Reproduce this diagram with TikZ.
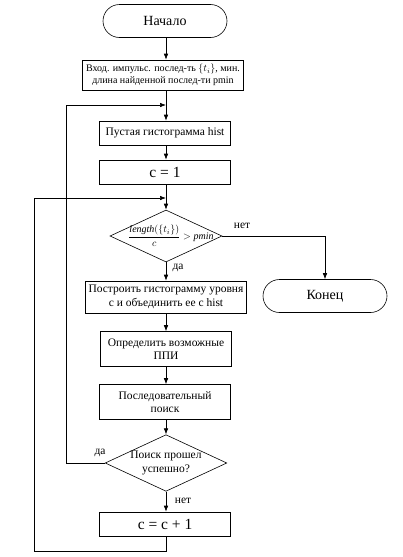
\documentclass[tikz,border=0pt]{standalone}
\usepackage{fontspec}
\setmainfont{Liberation Serif}
\usetikzlibrary{shapes.geometric,arrows.meta}
\begin{document}
\begin{tikzpicture} [x=1pt, y=-1pt, line width=0.6pt, >={Latex[length=6pt,width=4.5pt]},
        every node/.style = {draw, align=center, inner sep=1pt, font=\fontsize{11.5}{13.5}\selectfont},
        terminal/.style = {rounded corners=16.5pt, minimum width=124pt, minimum height=33pt, font=\fontsize{14}{16}\selectfont},
        block/.style = {minimum width=131pt, minimum height=24pt},
        decision/.style = {diamond, aspect=2.15, inner sep=0pt, minimum width=112pt, minimum height=52pt},
        tag/.style = {draw=none, inner sep=0pt}]
        \useasboundingbox (0,0) rectangle (403,557);
        % main column
        \node [terminal] (start) at (165,21) {Начало};
        \node [block, minimum width=161pt, minimum height=30pt, font=\fontsize{10}{12}\selectfont] (input) at (163,75)
            {Вход. импульс. послед-ть $\{t_i\}$, мин.\\длина найденной послед-ти pmin};
        \node [block] (hist) at (165,133) {Пустая гистограмма hist};
        \node [block, font=\fontsize{15.5}{17}\selectfont] (cinit) at (165,172) {c = 1};
        \node [decision] (check) at (166,236)
            {\makebox[40pt][c]{\hspace{10pt}\fontsize{10}{12}\selectfont$\displaystyle\frac{\mathit{length}(\{t_i\})}{c} > \mathit{pmin}$}};
        \node [block, minimum width=161pt, minimum height=32pt] (build) at (166,297)
            {Построить гистограмму уровня\\c и объединить ее с hist};
        \node [block, minimum height=35pt] (find) at (166,349) {Определить возможные\\ППИ};
        \node [block, minimum height=35pt] (seq) at (165,402) {Последовательный\\поиск};
        \node [decision] (ok) at (166,463) {Поиск прошел\\успешно?};
        \node [block, font=\fontsize{15.5}{17}\selectfont] (cinc) at (165,524) {c = c + 1};
        \node [terminal] (finish) at (325,296) {Конец};

        % junctions of the loops
        \coordinate (j1) at (166,105);
        \coordinate (j2) at (166,198);
        \coordinate (bot) at (166,551);

        \draw [->] (start.south -| j1) -- (input.north -| j1);
        \draw [->] (input.south -| j1) -- (hist.north -| j1);
        \draw [->] (hist.south -| j1) -- (cinit.north -| j1);
        \draw [->] (cinit.south -| j1) -- (check);
        \draw [->] (check) -- (check.south |- build.north);
        \draw [->] (build) -- (find);
        \draw [->] (find.south -| j1) -- (seq.north -| j1);
        \draw [->] (seq.south -| j1) -- (ok);
        \draw [->] (ok) -- (ok.south |- cinc.north);
        \draw [->] (check.east) -| (finish.north);
        \draw [->] (ok.west) -- (66,463) |- (j1);
        \draw [->] (cinc.south -| bot) -- (bot) -- (34,551) |- (j2);

        % branch labels
        \node [tag] (no1) at (242,226) {нет};
        \node [tag] (yes1) at (178,268) {да};
        \node [tag] (yes2) at (100,453) {да};
        \node [tag] (no2) at (183,501) {нет};
    \end{tikzpicture}
\end{document}
